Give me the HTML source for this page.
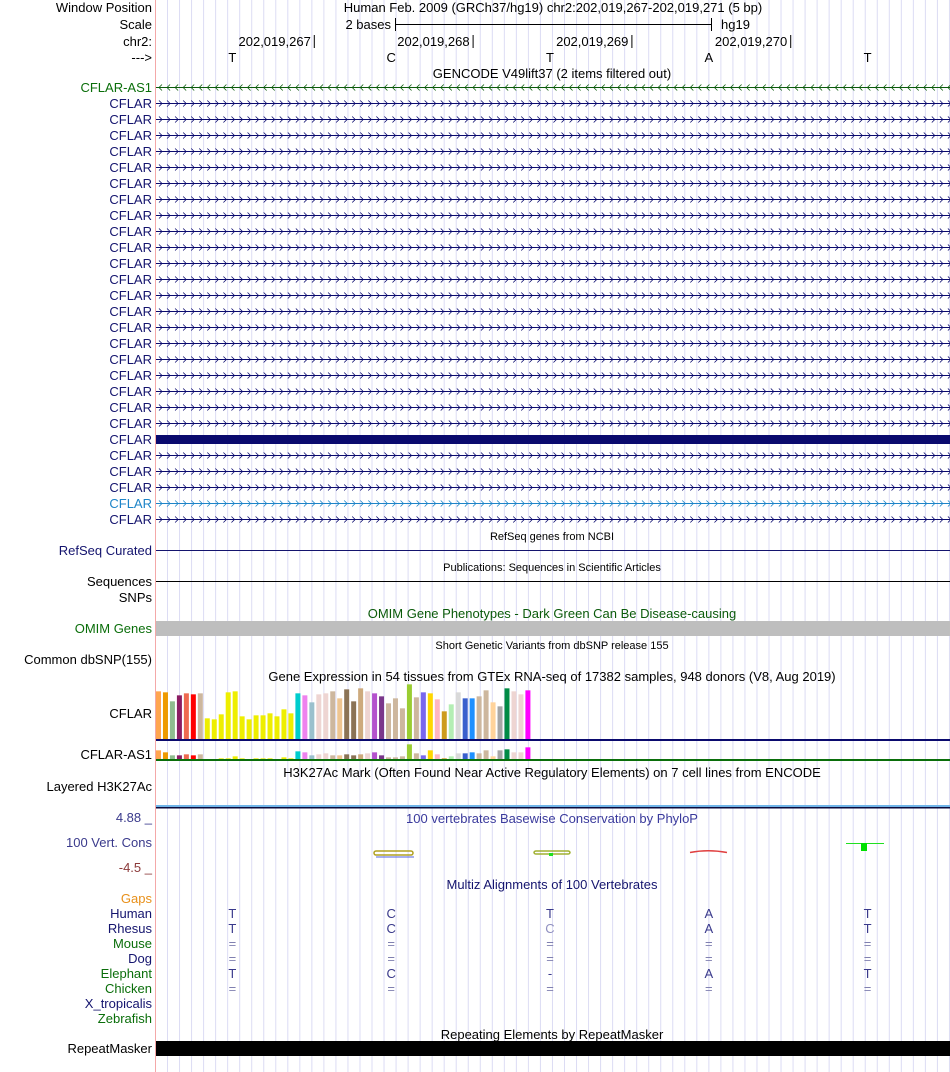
<!DOCTYPE html>
<html><head><meta charset="utf-8"><style>
html,body{margin:0;padding:0;background:#fff;}
svg{display:block;font-family:"Liberation Sans",sans-serif;}
</style></head><body>
<svg id="c" width="950" height="1072" viewBox="0 0 950 1072" xmlns="http://www.w3.org/2000/svg">
<g id="grid"></g>
<line x1="155.5" y1="0" x2="155.5" y2="1072" stroke="#f4a8a8"/>
<g id="labels" font-size="13" text-anchor="end"></g>
<g id="tracks"></g>
</svg>
<script>
const NS="http://www.w3.org/2000/svg";
const gtexCategories=["Adipose-Subcut","Adipose-Visceral","Adrenal","Artery-Aorta","Artery-Coronary","Artery-Tibial","Bladder","Brain-Amygdala","Brain-ACC","Brain-Caudate","Brain-CerebHem","Brain-Cerebellum","Brain-Cortex","Brain-FrontCtx","Brain-Hippo","Brain-Hypoth","Brain-Nucleus","Brain-Putamen","Brain-Spinal","Brain-Substantia","Breast","Fibroblasts","Lymphocytes","Cervix-Ecto","Cervix-Endo","Colon-Sigmoid","Colon-Transverse","Esoph-GEJ","Esoph-Mucosa","Esoph-Muscularis","FallopianTube","Heart-Atrial","Heart-LV","Kidney-Cortex","Kidney-Medulla","Liver","Lung","MinorSalivary","Muscle","Nerve-Tibial","Ovary","Pancreas","Pituitary","Prostate","Skin-NoSun","Skin-Sun","SmallIntestine","Spleen","Stomach","Testis","Thyroid","Uterus","Vagina","WholeBlood"];
const gtexColors=["#FFA54F","#EE9A00","#8FBC8F","#8B1C62","#EE6A50","#FF0000","#CDB79E","#EEEE00","#EEEE00","#EEEE00","#EEEE00","#EEEE00","#EEEE00","#EEEE00","#EEEE00","#EEEE00","#EEEE00","#EEEE00","#EEEE00","#EEEE00","#00CDCD","#EE82EE","#9AC0CD","#EED5D2","#EED5D2","#CDB79E","#EEC591","#8B7355","#8B7355","#CDAA7D","#EED5D2","#B452CD","#7A378B","#CDB79E","#CDB79E","#CDB79E","#9ACD32","#CDB79E","#7A67EE","#FFD700","#FFB6C1","#CD9B1D","#B4EEB4","#D9D9D9","#3A5FCD","#1E90FF","#CDB79E","#CDB79E","#FFD39B","#A6A6A6","#008B45","#EED5D2","#EED5D2","#FF00FF"];
const cflarValues=[143,140,113,131,137,134,137,62,59,74,140,143,68,59,71,71,77,68,89,77,137,131,110,134,137,143,122,149,113,152,143,137,128,107,122,92,164,125,140,137,119,83,104,140,122,122,128,146,110,98,152,143,134,146];
const cflarAs1Values=[26,20,11,11,14,11,14,0,0,2,2,8,2,0,2,2,2,0,5,2,23,20,11,14,17,11,11,14,11,14,17,20,11,5,5,8,44,17,11,26,14,2,8,17,17,20,17,26,8,26,29,20,20,35];
const bases=["T","C","T","A","T"];
const rhesus=["T","C","C","A","T"];
const mouse=["=","=","=","=","="];
const elephant=["T","C","-","A","T"];
const coordLabels=["202,019,267","202,019,268","202,019,269","202,019,270"];

const svg=document.getElementById('c');
const G=document.getElementById('grid'),L=document.getElementById('labels'),T=document.getElementById('tracks');
function mk(tag,attrs,parent,text){const e=document.createElementNS(NS,tag);for(const k in attrs)e.setAttribute(k,attrs[k]);if(text!==undefined)e.textContent=text;parent.appendChild(e);return e;}
const X0=156,X1=950,BW=(X1-X0)/5;
const bx=i=>X0+BW*i+BW/2-3;

for(let x=167.5;x<950;x+=12.03){const l=mk('line',{x1:x,y1:0,x2:x,y2:1072,stroke:'#dcdcf4'},G);}

function label(y,txt,col){const t=mk('text',{x:152,y:y,fill:col||'#000'},L,txt);return t;}
function ctext(x,y,txt,col,size){const t=mk('text',{x:x,y:y,fill:col||'#000','font-size':size||13,'text-anchor':'middle'},T,txt);return t;}

label(12,'Window Position');label(29,'Scale');label(46,'chr2:');label(62,'--->');
ctext(553,12,'Human Feb. 2009 (GRCh37/hg19)   chr2:202,019,267-202,019,271 (5 bp)');
mk('line',{x1:395,y1:24.5,x2:711,y2:24.5,stroke:'#000'},T);
mk('line',{x1:395.5,y1:18,x2:395.5,y2:31,stroke:'#000'},T);
mk('line',{x1:711.5,y1:18,x2:711.5,y2:31,stroke:'#000'},T);
mk('text',{x:391,y:29,'font-size':13,'text-anchor':'end'},T,'2 bases');
mk('text',{x:721,y:29,'font-size':13},T,'hg19');
coordLabels.forEach((c,i)=>{const xe=X0+BW*(i+1)-1;const t=mk('text',{x:xe-3,y:46,'font-size':13,'text-anchor':'end'},T,c);mk('line',{x1:xe+0.5,y1:35,x2:xe+0.5,y2:48,stroke:'#000'},T);});
bases.forEach((b,i)=>ctext(bx(i),62,b));

ctext(552,78,'GENCODE V49lift37 (2 items filtered out)');
function gene(y,col,dir,thick){
  if(thick){const r=mk('rect',{x:X0,y:y-4,width:X1-X0,height:9,fill:col},T);return;}
  const g=mk('g',{stroke:col,fill:'none'},T);
  mk('line',{x1:X0,y1:y+0.5,x2:X1,y2:y+0.5,'stroke-width':1},g);
  let d='';for(let x=X0+3;x<X1;x+=8.05){d+=dir>0?`M${x},${y-2.5}L${x+3},${y+0.5}L${x},${y+3.5}`:`M${x+3},${y-2.5}L${x},${y+0.5}L${x+3},${y+3.5}`;}
  mk('path',{d:d,'stroke-width':0.8},g);
}
label(92,'CFLAR-AS1','#0a6e0a');gene(87,'#0a5a0a',-1);
for(let k=0;k<27;k++){const y=103+16*k;const lc=(k==25)?'#1d84c8':'#14146e';label(y+5,'CFLAR',lc);gene(y,k==25?'#1d84c8':'#0a0a6e',1,k==21);}

ctext(552,540,'RefSeq genes from NCBI','#000',11);
label(555,'RefSeq Curated','#14146e');mk('line',{x1:X0,y1:550.5,x2:X1,y2:550.5,stroke:'#14146e'},T);
ctext(552,571,'Publications: Sequences in Scientific Articles','#000',11);
label(586,'Sequences');mk('line',{x1:X0,y1:581.5,x2:X1,y2:581.5,stroke:'#000'},T);
label(602,'SNPs');
ctext(552,618,'OMIM Gene Phenotypes - Dark Green Can Be Disease-causing','#0a5a0a');
label(633,'OMIM Genes','#0a6e0a');{const r=mk('rect',{x:X0,y:621,width:X1-X0,height:15,fill:'#bebebe'},T);}
ctext(552,649,'Short Genetic Variants from dbSNP release 155','#000',11);
label(664,'Common dbSNP(155)');
ctext(552,681,'Gene Expression in 54 tissues from GTEx RNA-seq of 17382 samples, 948 donors (V8, Aug 2019)');

const gx0=156,gpitch=6.97,gbw=5;
const yTop=(base,v)=>base-v/3;
label(718,'CFLAR');
cflarValues.forEach((v,i)=>{const r=mk('rect',{x:gx0+gpitch*i,y:yTop(739,v),width:gbw,height:v/3,fill:gtexColors[i]},T);});
mk('rect',{x:X0,y:739,width:X1-X0,height:2,fill:'#0a0a6e'},T);
label(759,'CFLAR-AS1');
cflarAs1Values.forEach((v,i)=>{const r=mk('rect',{x:gx0+gpitch*i,y:yTop(759,v),width:gbw,height:v/3,fill:gtexColors[i]},T);});
mk('rect',{x:X0,y:759,width:X1-X0,height:2,fill:'#0a6e0a'},T);

ctext(552,777,'H3K27Ac Mark (Often Found Near Active Regulatory Elements) on 7 cell lines from ENCODE');
label(791,'Layered H3K27Ac');
mk('rect',{x:X0,y:805,width:X1-X0,height:2,fill:'#6fb4e8'},T);
mk('rect',{x:X0,y:807,width:X1-X0,height:1.5,fill:'#0a0a3c'},T);

mk('text',{x:152,y:822,'font-size':13,'text-anchor':'end',fill:'#3a3a8c'},T,'4.88 _');
ctext(552,823,'100 vertebrates Basewise Conservation by PhyloP','#3a3a9c');
label(847,'100 Vert. Cons','#3a3a8c');
mk('text',{x:152,y:872,'font-size':13,'text-anchor':'end',fill:'#8c3a3a'},T,'-4.5 _');
mk('rect',{x:374,y:851,width:39,height:4,fill:'none',stroke:'#b0a020','stroke-width':1.5,rx:2},T);
mk('line',{x1:376,y1:857,x2:414,y2:857,stroke:'#5060e0'},T);
mk('rect',{x:534,y:851,width:36,height:3,fill:'none',stroke:'#a0b030','stroke-width':1.5,rx:2},T);
mk('rect',{x:549,y:853,width:4,height:3,fill:'#20e020'},T);
mk('path',{d:'M690,852.5Q708,849 727,852.5',stroke:'#e04040',fill:'none','stroke-width':1.5},T);
mk('line',{x1:846,y1:843.5,x2:884,y2:843.5,stroke:'#20e020'},T);
mk('rect',{x:861,y:843,width:6,height:8,fill:'#00e000'},T);

ctext(552,889,'Multiz Alignments of 100 Vertebrates','#14146e');
label(903,'Gaps','#e8901a');
const species=[["Human",'#14146e',bases,'#3a3a8c'],["Rhesus",'#14146e',rhesus,'#3a3a8c'],["Mouse",'#0a6e0a',mouse,'#8080b0'],["Dog",'#14146e',mouse,'#8080b0'],["Elephant",'#0a6e0a',elephant,'#3a3a8c'],["Chicken",'#0a6e0a',mouse,'#8080b0'],["X_tropicalis",'#14146e',null],["Zebrafish",'#0a6e0a',null]];
species.forEach((s,k)=>{const y=918+15*k;label(y,s[0],s[1]);if(s[2])s[2].forEach((b,i)=>{const col=(s[0]=='Rhesus'&&i==2)?'#9090c0':s[3];ctext(bx(i),y,b,col);});});

ctext(552,1039,'Repeating Elements by RepeatMasker');
label(1053,'RepeatMasker');
{const r=mk('rect',{x:X0,y:1041,width:X1-X0,height:15,fill:'#000'},T);}
</script>
</body></html>
